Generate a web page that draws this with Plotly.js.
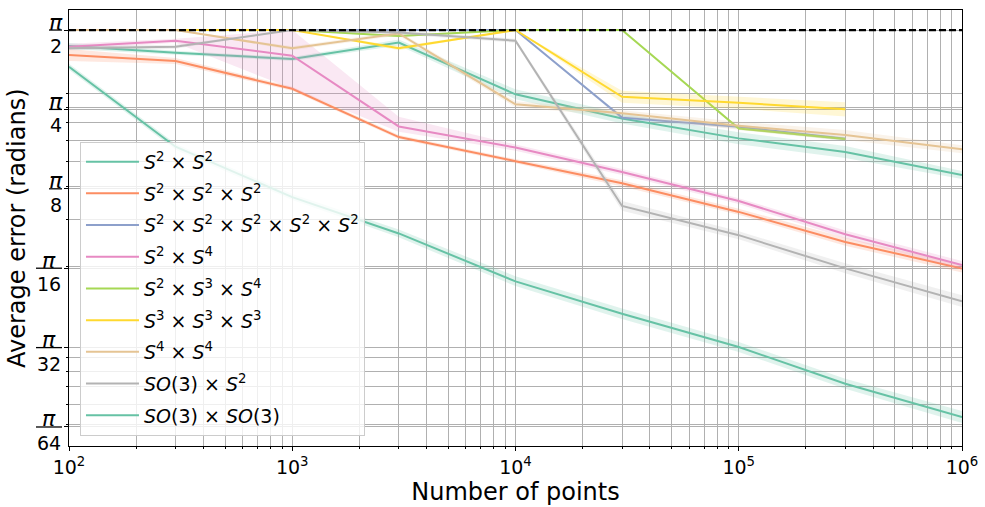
<!DOCTYPE html>
<html>
<head>
<meta charset="utf-8">
<script src="https://cdn.plot.ly/plotly-3.0.1.min.js"></script>
<style>
body{margin:0;background:#fff;}
#graph{width:985px;height:507px;}
</style>
</head>
<body>
<div id="graph"></div>
<script>
// number of sample points (x) shared by all runs
var points = [100, 300, 1000, 3000, 10000, 30000, 100000, 300000, 1000000]

// average error in radians, with the shaded band around it
var meanS2S2 = [1.366, 1.288, 1.219, 1.408, 0.896, 0.726, 0.610, 0.542, 0.443]
var loS2S2   = [1.331, 1.266, 1.198, 1.372, 0.858, 0.695, 0.579, 0.514, 0.428]
var hiS2S2   = [1.402, 1.311, 1.240, 1.445, 0.936, 0.758, 0.643, 0.571, 0.459]

var meanS2S2S2 = [1.263, 1.198, 0.941, 0.617, 0.500, 0.412, 0.321, 0.247, 0.196]
var loS2S2S2   = [1.199, 1.167, 0.925, 0.606, 0.491, 0.401, 0.313, 0.239, 0.189]
var hiS2S2S2   = [1.331, 1.230, 0.958, 0.628, 0.509, 0.423, 0.330, 0.256, 0.203]

var meanS2x5 = [1.571, 1.571, 1.571, 1.571, 1.571, 0.731, 0.675, 0.608]
var loS2x5   = [1.571, 1.571, 1.571, 1.571, 1.571, 0.718, 0.663, 0.597]
var hiS2x5   = [1.571, 1.571, 1.571, 1.571, 1.571, 0.744, 0.687, 0.619]

var meanS2S4 = [1.357, 1.431, 1.255, 0.677, 0.563, 0.455, 0.353, 0.264, 0.202]
var loS2S4   = [1.322, 1.406, 0.940, 0.646, 0.548, 0.443, 0.344, 0.255, 0.195]
var hiS2S4   = [1.393, 1.456, 1.571, 0.736, 0.578, 0.467, 0.362, 0.273, 0.209]

var meanS2S3S4 = [1.571, 1.571, 1.571, 1.490, 1.571, 1.571, 0.665, 0.606]
var loS2S3S4   = [1.571, 1.571, 1.571, 1.475, 1.571, 1.571, 0.656, 0.597]
var hiS2S3S4   = [1.571, 1.571, 1.571, 1.505, 1.571, 1.571, 0.674, 0.615]

var meanS3S3S3 = [1.571, 1.571, 1.571, 1.339, 1.571, 0.877, 0.832, 0.786]
var loS3S3S3   = [1.571, 1.571, 1.571, 1.316, 1.571, 0.832, 0.790, 0.739]
var hiS3S3S3   = [1.571, 1.571, 1.571, 1.362, 1.571, 0.924, 0.877, 0.836]

var meanS4S4 = [1.571, 1.571, 1.339, 1.524, 0.821, 0.759, 0.681, 0.628, 0.555]
var loS4S4   = [1.571, 1.571, 1.316, 1.498, 0.800, 0.739, 0.658, 0.601, 0.536]
var hiS4S4   = [1.571, 1.571, 1.362, 1.551, 0.843, 0.779, 0.705, 0.656, 0.575]

var meanSO3S2 = [1.339, 1.357, 1.571, 1.537, 1.431, 0.338, 0.262, 0.196, 0.147]
var loSO3S2   = [1.316, 1.334, 1.571, 1.510, 1.406, 0.324, 0.253, 0.188, 0.140]
var hiSO3S2   = [1.362, 1.381, 1.571, 1.564, 1.456, 0.353, 0.271, 0.205, 0.155]

var meanSO3SO3 = [1.140, 0.567, 0.365, 0.266, 0.175, 0.132, 0.0987, 0.0716, 0.0535]
var loSO3SO3   = [1.110, 0.552, 0.356, 0.257, 0.168, 0.126, 0.0945, 0.0685, 0.0508]
var hiSO3SO3   = [1.170, 0.582, 0.375, 0.275, 0.183, 0.138, 0.1031, 0.0748, 0.0564]

var names = [
	"<i>S</i><sup>2</sup> × <i>S</i><sup>2</sup>",
	"<i>S</i><sup>2</sup> × <i>S</i><sup>2</sup> × <i>S</i><sup>2</sup>",
	"<i>S</i><sup>2</sup> × <i>S</i><sup>2</sup> × <i>S</i><sup>2</sup> × <i>S</i><sup>2</sup> × <i>S</i><sup>2</sup>",
	"<i>S</i><sup>2</sup> × <i>S</i><sup>4</sup>",
	"<i>S</i><sup>2</sup> × <i>S</i><sup>3</sup> × <i>S</i><sup>4</sup>",
	"<i>S</i><sup>3</sup> × <i>S</i><sup>3</sup> × <i>S</i><sup>3</sup>",
	"<i>S</i><sup>4</sup> × <i>S</i><sup>4</sup>",
	"<i>SO</i>(3) × <i>S</i><sup>2</sup>",
	"<i>SO</i>(3) × <i>SO</i>(3)"
]
var colors = ["102,194,165", "252,141,98", "141,160,203", "231,138,195", "166,216,84",
	"255,217,47", "229,196,148", "179,179,179", "102,194,165"]

// y ticks are pi / denominator
var tickDenoms = [2, 4, 8, 16, 32, 64]
var xTickText = ["10<sup>2</sup>", "10<sup>3</sup>", "10<sup>4</sup>", "10<sup>5</sup>", "10<sup>6</sup>"]

var series = [
	[meanS2S2, loS2S2, hiS2S2],
	[meanS2S2S2, loS2S2S2, hiS2S2S2],
	[meanS2x5, loS2x5, hiS2x5],
	[meanS2S4, loS2S4, hiS2S4],
	[meanS2S3S4, loS2S3S4, hiS2S3S4],
	[meanS3S3S3, loS3S3S3, hiS3S3S3],
	[meanS4S4, loS4S4, hiS4S4],
	[meanSO3S2, loSO3S2, hiSO3S2],
	[meanSO3SO3, loSO3SO3, hiSO3SO3]
]

var traces = []
for (var i = 0; i < series.length; i++) {
	var mean = series[i][0], lo = series[i][1], hi = series[i][2]
	var xs = points.slice(0, mean.length)
	traces.push({
		x: xs.concat(xs.slice().reverse()),
		y: hi.concat(lo.slice().reverse()),
		mode: "lines", fill: "toself",
		fillcolor: "rgba(" + colors[i] + ",0.2)",
		line: {width: 0, color: "rgba(0,0,0,0)"},
		legendgroup: "g" + i, showlegend: false, hoverinfo: "skip"
	})
	traces.push({
		x: xs, y: mean, mode: "lines", name: names[i],
		line: {color: "rgb(" + colors[i] + ")", width: 2},
		legendgroup: "g" + i
	})
}
// pi/2 reference line, on top of everything
traces.push({
	x: [points[0], points[points.length - 1]], y: [Math.PI / 2, Math.PI / 2],
	mode: "lines", line: {color: "black", width: 2.2, dash: "7px,3px"},
	showlegend: false, hoverinfo: "skip"
})

var decades = [], xMinor = []
for (var e = 2; e <= 6; e++) {
	decades.push(Math.pow(10, e))
	if (e < 6) for (var m = 2; m <= 9; m++) xMinor.push(m * Math.pow(10, e))
}
var yMinor = [0.05, 0.06, 0.07, 0.08, 0.09, 0.2, 0.3, 0.4, 0.5, 0.6, 0.7, 0.8, 0.9]

var yTickVals = tickDenoms.map(function (d) { return Math.PI / d })
var annotations = [], shapes = []
tickDenoms.forEach(function (d) {
	var v = Math.PI / d
	var wide = d >= 10
	var cx = wide ? -20 : -13.5
	annotations.push({
		xref: "paper", x: 0, xshift: cx, xanchor: "center",
		yref: "y", y: Math.log10(v), yshift: 8, yanchor: "middle",
		text: "<i>π</i>", showarrow: false, font: {size: 22}
	})
	annotations.push({
		xref: "paper", x: 0, xshift: cx, xanchor: "center",
		yref: "y", y: Math.log10(v), yshift: -16, yanchor: "middle",
		text: String(d), showarrow: false, font: {size: 19}
	})
	shapes.push({
		type: "line", xref: "paper", xsizemode: "pixel", xanchor: 0,
		x0: wide ? -33 : -20, x1: -7,
		yref: "y", ysizemode: "pixel", yanchor: v, y0: -4, y1: -4,
		line: {color: "black", width: 1.3}
	})
})
annotations.push({
	xref: "paper", x: 0, xshift: -52, xanchor: "center",
	yref: "paper", y: 0.5, yanchor: "middle", textangle: -90,
	text: "Average error (radians)", showarrow: false, font: {size: 24}
})

var gridColor = "#b0b0b0"
var layout = {
	width: 985, height: 507,
	margin: {l: 69, r: 23, t: 10, b: 61},
	paper_bgcolor: "white", plot_bgcolor: "white",
	font: {family: "DejaVu Sans", color: "black", size: 18},
	showlegend: true,
	legend: {
		x: 0.0123, y: 0.6977, xanchor: "left", yanchor: "top",
		bgcolor: "rgba(255,255,255,0.8)", bordercolor: "#cccccc", borderwidth: 1,
		font: {size: 19}, tracegroupgap: 4, traceorder: "grouped", itemwidth: 53
	},
	xaxis: {
		type: "log", range: [2, 6],
		tickmode: "array", tickvals: decades, ticktext: xTickText, tickfont: {size: 19},
		ticks: "outside", ticklen: 4, tickwidth: 1, tickcolor: "black",
		showgrid: true, gridcolor: gridColor, gridwidth: 1, zeroline: false,
		showline: true, mirror: true, linecolor: "black", linewidth: 1,
		minor: {tickmode: "array", tickvals: xMinor, ticks: "outside", ticklen: 2,
			tickcolor: "black", showgrid: true, gridcolor: gridColor, gridwidth: 1},
		title: {text: "Number of points", font: {size: 24}, standoff: 0}
	},
	yaxis: {
		type: "log", range: [Math.log10(0.04158), Math.log10(1.871)],
		tickmode: "array", tickvals: yTickVals, showticklabels: false,
		ticks: "outside", ticklen: 4, tickwidth: 1, tickcolor: "black",
		showgrid: true, gridcolor: gridColor, gridwidth: 1, zeroline: false,
		showline: true, mirror: true, linecolor: "black", linewidth: 1,
		minor: {tickmode: "array", tickvals: yMinor, ticks: "outside", ticklen: 2,
			tickcolor: "black", showgrid: true, gridcolor: gridColor, gridwidth: 1}
	},
	annotations: annotations,
	shapes: shapes
}

Plotly.newPlot("graph", traces, layout, {displayModeBar: false, staticPlot: true})
</script>
</body>
</html>
